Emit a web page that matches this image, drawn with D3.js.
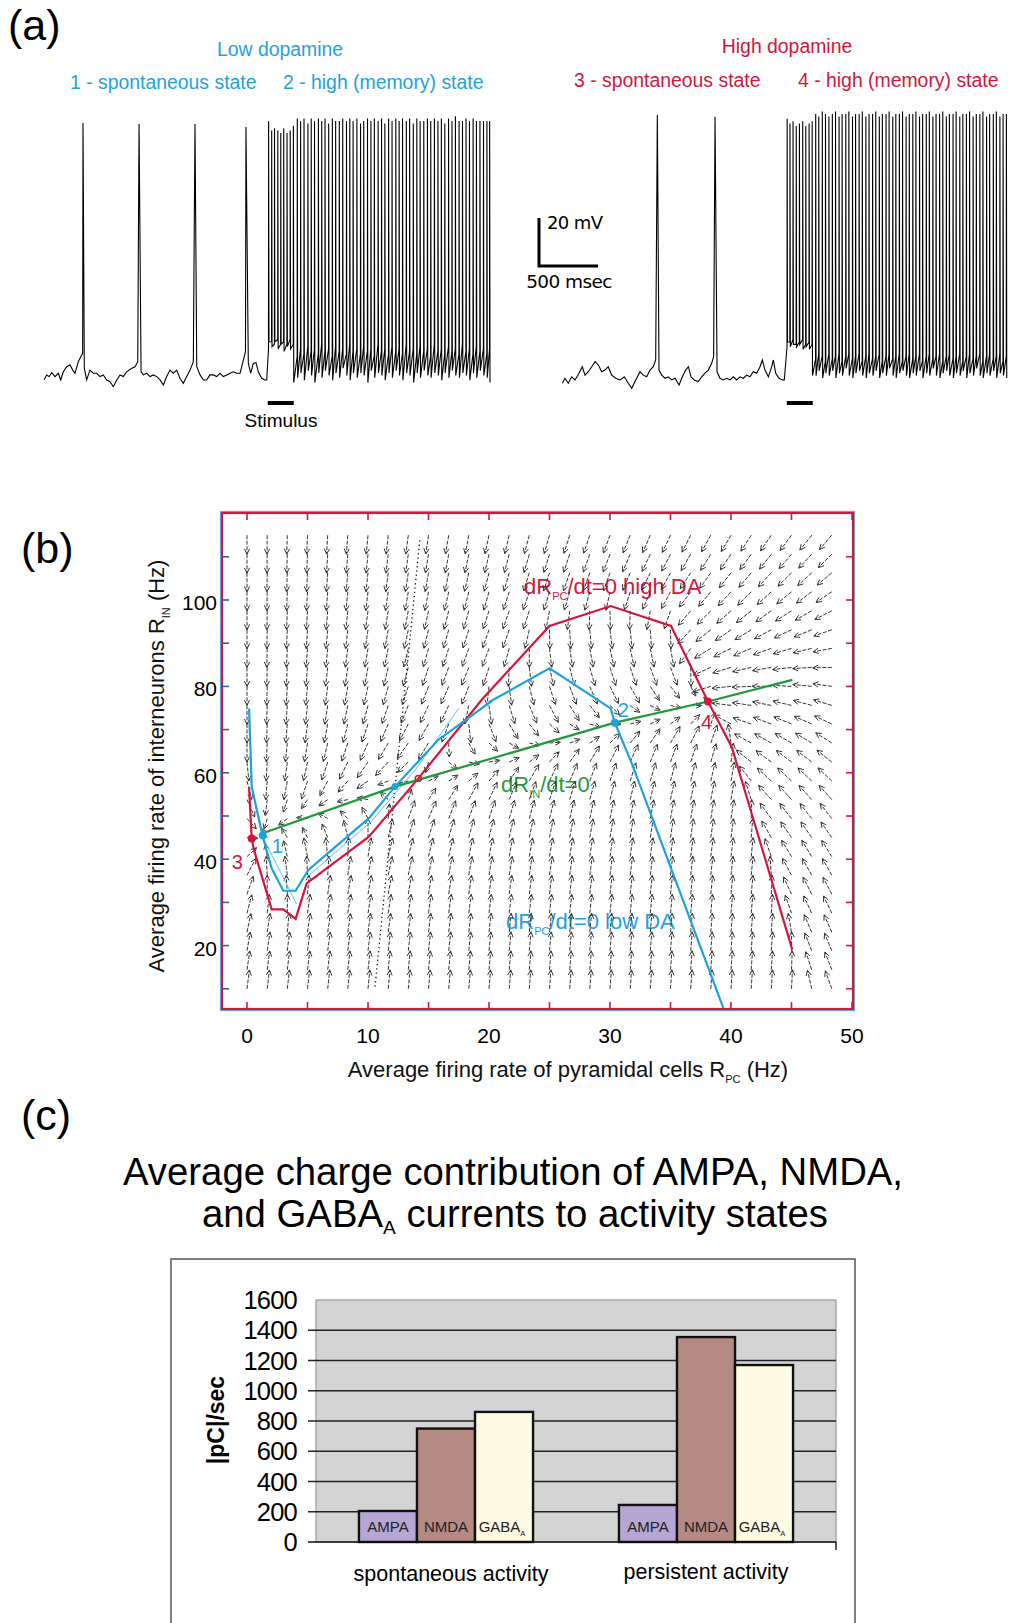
<!DOCTYPE html>
<html>
<head>
<meta charset="utf-8">
<script src="https://cdn.jsdelivr.net/npm/d3@7"></script>
<style>
  body { margin: 0; background: #fff; }
  svg { display: block; font-family: "Liberation Sans", Arial, Helvetica, sans-serif; }
</style>
</head>
<body>
<svg id="fig" width="1010" height="1623"></svg>
<script>
// ---------- (a) membrane potential traces: time in ms, voltage in mV ----------
const lowRest = [[8,-72.9],[31,-70.8],[53,-71.5],[74,-69.9],[102,-71.5],[130,-70.1],[150,-72.9],[172,-69.5],[201,-67.4],[229,-66.7],[252,-68.8],[271,-70.1],[299,-65.3],[320,-63.2],[336,-61.8],
  [350,-68.0],[370,-72.9],[398,-68.8],[426,-70.1],[455,-70.1],[483,-71.5],[511,-70.8],[540,-72.9],[568,-73.6],[596,-75.7],[625,-72.9],[653,-70.8],[681,-71.5],[709,-69.5],[752,-68.0],[780,-67.4],[803,-65.3],
  [831,-69.5],[850,-70.8],[879,-70.1],[907,-71.5],[935,-70.8],[964,-71.5],[992,-72.9],[1020,-75],[1048,-71.5],[1076,-68.8],[1104,-70.1],[1133,-68.8],[1161,-72.2],[1189,-74.3],[1218,-71.5],[1246,-68.8],[1274,-65.3],
  [1303,-67.4],[1331,-70.8],[1359,-72.9],[1387,-72.9],[1415,-70.8],[1443,-70.8],[1472,-71.5],[1500,-70.1],[1528,-71.5],[1557,-70.8],[1585,-70.1],[1613,-69.5],[1642,-70.1],[1670,-70.1],[1698,-64.6],[1716,-61.1],
  [1740,-66.0],[1760,-70.1],[1782,-66.0],[1805,-65.7],[1825,-69.5],[1853,-72.2],[1881,-72.9],[1896,-72.9]];
const lowSpontSpikes = [[339,34.2],[814,33.8],[1288,33.8],[1720,32.5]];
// persistent spikes: [time, pre-spike level, peak, trough]
const lowPersistSpikes = [[1912,-60,35,-57],[1938,-57,31,-59],[1962,-58,32,-57],[1990,-56,31,-60],[2015,-58,30,-58],[2040,-57,32,-61],[2068,-58,30,-59],[2095,-56,31,-60],[2122,-58,33,-74],
  [2155,-63,36,-72],[2183,-60,35,-70],[2212,-62,36,-73],[2245,-59,34,-69],[2273,-61,36,-71],[2301,-60,35,-74],[2334,-62,36,-70],[2362,-58,35,-72],[2390,-61,36,-69],[2421,-60,34,-71],
  [2452,-63,36,-73],[2480,-59,35,-70],[2511,-61,35,-72],[2540,-60,36,-68],[2572,-62,35,-71],[2600,-58,36,-73],[2628,-61,35,-70],[2660,-60,36,-72],[2691,-62,34,-70],[2718,-59,35,-71],
  [2750,-61,36,-74],[2779,-60,35,-69],[2808,-63,36,-72],[2840,-58,35,-70],[2869,-61,36,-71],[2897,-60,34,-73],[2929,-62,36,-70],[2958,-59,35,-72],[2990,-61,36,-69],[3018,-60,35,-71],
  [3047,-62,36,-73],[3079,-58,35,-70],[3107,-61,36,-71],[3138,-60,34,-74],[3168,-62,36,-70],[3196,-59,35,-72],[3227,-61,35,-69],[3258,-60,36,-71],[3286,-63,35,-72],[3317,-58,36,-70],
  [3347,-61,35,-71],[3376,-60,36,-73],[3405,-62,34,-70],[3437,-59,36,-72],[3466,-61,35,-69],[3495,-60,37,-71],[3526,-62,35,-72],[3555,-58,35,-70],[3585,-61,36,-71],[3614,-60,35,-73],
  [3645,-62,36,-70],[3673,-59,35,-72],[3703,-61,35,-69],[3733,-60,35,-71],[3762,-62,35,-72],[3785,-60,35,-74]];

const highRest = [[3,-72.2],[25,-70.1],[53,-72.2],[82,-69.5],[110,-70.8],[144,-68.0],[172,-65.3],[195,-68.8],[223,-67.4],[252,-65.3],[280,-63.2],[308,-64.6],[336,-67.4],[364,-66.7],[392,-65.3],
  [421,-68.8],[455,-70.1],[492,-70.8],[528,-69.5],[562,-72.2],[591,-74.3],[625,-70.8],[661,-67.4],[689,-68.8],[718,-69.5],[746,-66.7],[774,-65.3],[794,-62.5],
  [822,-66.7],[845,-68.8],[873,-70.1],[901,-69.5],[930,-70.8],[958,-70.1],[992,-72.9],[1020,-69.5],[1048,-66.7],[1071,-65.3],[1093,-69.5],[1121,-70.8],[1155,-71.5],[1184,-69.5],[1212,-68.0],[1240,-66.7],[1268,-63.9],[1285,-61.1],
  [1314,-67.4],[1339,-70.1],[1367,-70.8],[1396,-70.1],[1424,-70.8],[1452,-69.5],[1480,-70.8],[1509,-69.5],[1537,-70.1],[1565,-68.8],[1593,-69.5],[1621,-67.4],[1650,-68.0],[1678,-65.3],[1698,-62.5],
  [1720,-66.7],[1749,-69.5],[1777,-65.3],[1791,-62.5],[1811,-68.0],[1839,-70.1],[1867,-70.8],[1884,-70.8]];
const highSpontSpikes = [[808,39.6],[1297,38.9]];
const highPersistSpikes = [[1908,-57,38,-55],[1932,-55,36,-57],[1958,-54,37,-56],[1985,-56,35,-57],[2012,-55,36,-56],[2040,-54,37,-58],[2066,-56,35,-57],[2094,-55,36,-58],[2120,-56,37,-69],
  [2150,-62,40,-69],[2176,-60,39,-67],[2206,-61,41,-70],[2233,-63,40,-68],[2262,-60,39,-69],[2291,-62,40,-67],[2318,-61,41,-70],[2348,-60,39,-68],[2374,-63,40,-69],[2405,-61,40,-66],
  [2431,-60,41,-69],[2462,-62,39,-70],[2488,-61,40,-68],[2518,-60,40,-67],[2545,-63,41,-69],[2575,-61,39,-70],[2602,-60,40,-68],[2632,-62,40,-69],[2659,-61,41,-67],[2689,-60,39,-70],
  [2715,-63,40,-68],[2746,-61,40,-69],[2772,-60,41,-66],[2803,-62,39,-69],[2829,-61,40,-70],[2859,-60,40,-68],[2886,-63,41,-67],[2916,-61,39,-69],[2943,-60,40,-70],[2973,-62,40,-68],
  [2999,-61,41,-69],[3030,-60,39,-67],[3056,-63,40,-70],[3087,-61,40,-68],[3113,-60,41,-69],[3143,-62,39,-66],[3170,-61,40,-69],[3200,-60,40,-70],[3227,-63,41,-68],[3257,-61,39,-67],
  [3283,-60,40,-69],[3314,-62,40,-70],[3340,-61,41,-68],[3371,-60,39,-69],[3397,-63,40,-67],[3427,-61,40,-70],[3454,-60,41,-68],[3484,-62,39,-69],[3511,-61,40,-66],[3541,-60,40,-69],
  [3567,-63,41,-70],[3598,-61,39,-68],[3624,-60,40,-69],[3655,-62,40,-67],[3681,-61,41,-70],[3711,-60,39,-68],[3738,-63,40,-69],[3766,-61,40,-70]];

const stimulusWindow = [1905, 2125];   // ms
const scaleBarTime = 500;              // ms
const scaleBarVolt = 20;               // mV

// ---------- (b) phase plane: R_PC (Hz) vs R_IN (Hz) ----------
const redNullcline = [[0.17,56.7],[0.39,44.8],[0.58,42.1],[2.04,28.4],[3.0,28.4],[4.02,26.2],[4.93,34.4],[10.08,45.2],[14.16,58.7],[19.4,76.9],[25.0,94.0],[30.06,98.6],[35.04,94.0],[38.1,76.5],[40.06,66.0],[45.07,19.0]];
const blueNullcline = [[0.17,74.9],[0.39,56.8],[1.3,45.2],[2.04,37.9],[3.0,32.7],[4.02,32.7],[5.07,37.5],[10.08,49.5],[12.23,56.8],[15.8,67.6],[20.36,76.9],[25.0,84.2],[30.06,74.9],[30.4,71.6],[31.8,62.2],[39.4,5.3]];
const blueThinA = [[1.3,45.2],[4.1,29.6]];
const blueThinB = [[5.2,36.5],[10.2,48.5],[14.0,61.0],[17.5,74.9]];
const greenNullcline = [[1.3,46.0],[12.23,56.8],[30.4,71.6],[38.1,76.5],[45.07,81.5]];
const separatrix = [[10.58,10.5],[14.3,114.3]];
const stableLowDA = [[1.3,45.5],[30.4,71.6]];     // points 1, 2
const stableHighDA = [[0.39,44.8],[38.1,76.5]];   // points 3, 4
const saddleLowDA = [12.23,56.8];
const saddleHighDA = [14.16,58.7];
const quiverCols = [0,1.67,3.33,5,6.67,8.33,10,11.67,13.33,15,16.67,18.33,20,21.67,23.33,25,26.67,28.33,30,31.67,33.33,35,36.67,38.33,40,41.67,43.33,45,46.67,48.33];
const quiverRows = [10,14.4,18.8,23.1,27.5,31.9,36.3,40.6,45,49.4,53.8,58.1,62.5,66.9,71.3,75.6,80,84.4,88.8,93.1,97.5,101.9,106.3,110.6,115];
const xTicksB = [0,10,20,30,40,50];
const xMinorB = [0,5,10,15,20,25,30,35,40,45,50];
const yTicksB = [20,40,60,80,100];
const yMinorB = [10,20,30,40,50,60,70,80,90,100,110];

// ---------- (c) charge contribution ----------
const activityStates = ["spontaneous activity", "persistent activity"];
const receptors = ["AMPA", "NMDA", "GABA"];
const spontaneousCharge = [205, 750, 860];
const persistentCharge = [245, 1355, 1170];
const yTicksC = [0,200,400,600,800,1000,1200,1400,1600];

const RED = "#d2163c", BLUE = "#1ea2dc", GREEN = "#1e9a3a";
const svg = d3.select("#fig");

function subLabel(parent, x, y, pre, sub, post, size, color, anchor) {
  const t = parent.append("text").attr("x", x).attr("y", y)
    .attr("font-size", size).attr("fill", color).attr("text-anchor", anchor || "start");
  t.append("tspan").text(pre);
  t.append("tspan").attr("dy", size * 0.25).attr("font-size", size * 0.5).text(sub);
  if (post) t.append("tspan").attr("dy", -size * 0.25).text(post);
  return t;
}

// panel letters
svg.append("text").attr("x", 8).attr("y", 40).attr("font-size", 43).text("(a)");
svg.append("text").attr("x", 21).attr("y", 563).attr("font-size", 43).text("(b)");
svg.append("text").attr("x", 21).attr("y", 1130).attr("font-size", 43).text("(c)");

// ================= (a) =================
const xL = d3.scaleLinear().domain([0, 3800]).range([43, 491.4]);
const xR = d3.scaleLinear().domain([0, 3800]).range([562, 1010.4]);
const yL = d3.scaleLinear().domain([-75, 40]).range([385, 109]);
const yR = d3.scaleLinear().domain([-75, 40]).range([390, 114]);

function tracePoints(rest, spont, persist) {
  const pts = rest.concat(spont).sort((a, b) => a[0] - b[0]).map(d => [d[0], d[1]]);
  persist.forEach(d => {
    pts.push([d[0] - 1, d[1]], [d[0], d[2]], [d[0] + 3, d[3]]);
  });
  return pts;
}

const a = svg.append("g");
[[lowRest, lowSpontSpikes, lowPersistSpikes, xL, yL], [highRest, highSpontSpikes, highPersistSpikes, xR, yR]].forEach(([r, s, p, x, y]) => {
  a.append("path")
    .attr("d", d3.line().x(d => x(d[0])).y(d => y(d[1]))(tracePoints(r, s, p)))
    .attr("fill", "none").attr("stroke", "#000").attr("stroke-width", 1.1);
});

// stimulus bars
[xL, xR].forEach(x => {
  a.append("line").attr("x1", x(stimulusWindow[0])).attr("x2", x(stimulusWindow[1]))
    .attr("y1", 403).attr("y2", 403).attr("stroke", "#000").attr("stroke-width", 4);
});
a.append("text").attr("x", 281).attr("y", 427).attr("text-anchor", "middle").attr("font-size", 19).text("Stimulus");

// scale bar
const sbX = 539, sbY = 266;
const sbW = xL(scaleBarTime) - xL(0), sbH = yL(-70) - yL(-70 + scaleBarVolt);
a.append("path").attr("d", `M${sbX},${sbY - sbH}V${sbY}H${sbX + sbW}`)
  .attr("fill", "none").attr("stroke", "#000").attr("stroke-width", 3);
a.append("text").attr("x", 547).attr("y", 229).attr("font-size", 18).attr("font-family", "DejaVu Sans")
  .attr("letter-spacing", -0.6).text("20 mV");
a.append("text").attr("x", 569).attr("y", 288).attr("text-anchor", "middle").attr("font-size", 18.5)
  .attr("font-family", "DejaVu Sans").attr("letter-spacing", -0.6).text("500 msec");

// state headings
const hs = 19.4;
a.append("text").attr("x", 280).attr("y", 56).attr("text-anchor", "middle").attr("font-size", hs).attr("fill", BLUE).text("Low dopamine");
a.append("text").attr("x", 70).attr("y", 89).attr("font-size", hs).attr("fill", BLUE).text("1 - spontaneous state");
a.append("text").attr("x", 283).attr("y", 89).attr("font-size", hs).attr("fill", BLUE).text("2 - high (memory) state");
a.append("text").attr("x", 787).attr("y", 53).attr("text-anchor", "middle").attr("font-size", hs).attr("fill", RED).text("High dopamine");
a.append("text").attr("x", 574).attr("y", 87).attr("font-size", hs).attr("fill", RED).text("3 - spontaneous state");
a.append("text").attr("x", 798).attr("y", 87).attr("font-size", hs).attr("fill", RED).text("4 - high (memory) state");

// ================= (b) =================
const xP = d3.scaleLinear().domain([0, 50]).range([247, 852]);
const yP = d3.scaleLinear().domain([0, 100]).range([1032, 600]);
const frame = { x0: 222, x1: 853, y0: 513, y1: 1009 };
const b = svg.append("g");

// nullcline labels (the arrows are drawn over them, as in the figure)
subLabel(b, 524, 594, "dR", "PC", "/dt=0 high DA", 22, RED);
subLabel(b, 501, 792, "dR", "IN", "/dt=0", 22, GREEN);
subLabel(b, 506, 929, "dR", "PC", "/dt=0 low DA", 22, BLUE);

// direction field, derived from the nullcline curves read above
const Rcurve = d3.scaleLinear().domain(redNullcline.map(d => d[0])).range(redNullcline.map(d => d[1]));
const Gcurve = d3.scaleLinear().domain(greenNullcline.map(d => d[0])).range(greenNullcline.map(d => d[1]));
const arrows = [];
quiverRows.forEach(ry => quiverCols.forEach(cx => {
  const s = Math.tanh((Rcurve(cx) - ry) / 8);
  const u = s > 0 ? 8 * s : cx * s;
  const v = 1.8 * (Gcurve(cx) - ry);
  arrows.push({ cx, ry, u, v });
}));
const quiver = b.append("g").attr("stroke", "#333").attr("fill", "none");
arrows.forEach(d => {
  const mag = Math.hypot(d.u, d.v) || 1;
  const len = Math.max(11, Math.min(19, mag * 1.2));
  const dx = d.u / mag, dy = -d.v / mag;
  const x0 = xP(d.cx), y0 = yP(d.ry);
  const x1 = x0 + dx * len, y1 = y0 + dy * len;
  quiver.append("line").attr("x1", x0).attr("y1", y0).attr("x2", x1).attr("y2", y1)
    .attr("stroke-width", 1).attr("stroke-dasharray", "4,1.5");
  const ang = Math.atan2(dy, dx), h = 6;
  quiver.append("path")
    .attr("d", `M${x1 - h * Math.cos(ang - 0.45)},${y1 - h * Math.sin(ang - 0.45)}L${x1},${y1}L${x1 - h * Math.cos(ang + 0.45)},${y1 - h * Math.sin(ang + 0.45)}`)
    .attr("stroke-width", 1);
});

const lineP = d3.line().x(d => xP(d[0])).y(d => yP(d[1]));
b.append("path").attr("d", lineP(separatrix)).attr("stroke", "#111").attr("stroke-width", 1.3)
  .attr("stroke-dasharray", "1.3,3").attr("fill", "none");
b.append("path").attr("d", lineP(blueThinA)).attr("stroke", "#56c2ee").attr("stroke-width", 1).attr("fill", "none");
b.append("path").attr("d", lineP(blueThinB)).attr("stroke", "#56c2ee").attr("stroke-width", 1).attr("fill", "none");
b.append("path").attr("d", lineP(redNullcline)).attr("stroke", RED).attr("stroke-width", 2.2).attr("fill", "none");
b.append("path").attr("d", lineP(blueNullcline)).attr("stroke", BLUE).attr("stroke-width", 2.2).attr("fill", "none");
b.append("path").attr("d", lineP(greenNullcline)).attr("stroke", GREEN).attr("stroke-width", 2.2).attr("fill", "none");

stableHighDA.forEach(p => b.append("circle").attr("cx", xP(p[0])).attr("cy", yP(p[1])).attr("r", 4).attr("fill", RED));
stableLowDA.forEach(p => b.append("circle").attr("cx", xP(p[0])).attr("cy", yP(p[1])).attr("r", 4).attr("fill", BLUE));
b.append("circle").attr("cx", xP(saddleLowDA[0])).attr("cy", yP(saddleLowDA[1])).attr("r", 3.5).attr("fill", BLUE);
b.append("circle").attr("cx", xP(saddleHighDA[0])).attr("cy", yP(saddleHighDA[1])).attr("r", 3).attr("fill", "none")
  .attr("stroke", RED).attr("stroke-width", 1.5);

// point numbers
b.append("text").attr("x", xP(stableLowDA[0][0]) + 9).attr("y", yP(stableLowDA[0][1]) + 18).attr("font-size", 20).attr("fill", BLUE).text("1");
b.append("text").attr("x", xP(stableLowDA[1][0]) + 3).attr("y", yP(stableLowDA[1][1]) - 6).attr("font-size", 20).attr("fill", BLUE).text("2");
b.append("text").attr("x", xP(stableHighDA[0][0]) - 20).attr("y", yP(stableHighDA[0][1]) + 31).attr("font-size", 20).attr("fill", RED).text("3");
b.append("text").attr("x", xP(stableHighDA[1][0]) - 7).attr("y", yP(stableHighDA[1][1]) + 27).attr("font-size", 20).attr("fill", RED).text("4");

// frame
b.append("rect").attr("x", frame.x0 - 1.5).attr("y", frame.y0 - 1.5)
  .attr("width", frame.x1 - frame.x0 + 3).attr("height", frame.y1 - frame.y0 + 3)
  .attr("fill", "none").attr("stroke", "#5ab4e6").attr("stroke-width", 1.2);
b.append("rect").attr("x", frame.x0).attr("y", frame.y0)
  .attr("width", frame.x1 - frame.x0).attr("height", frame.y1 - frame.y0)
  .attr("fill", "none").attr("stroke", RED).attr("stroke-width", 2.2);

// inward ticks on all four sides
const tk = 7;
xMinorB.forEach(v => {
  b.append("line").attr("x1", xP(v)).attr("x2", xP(v)).attr("y1", frame.y0).attr("y2", frame.y0 + tk).attr("stroke", RED).attr("stroke-width", 1.6);
  b.append("line").attr("x1", xP(v)).attr("x2", xP(v)).attr("y1", frame.y1).attr("y2", frame.y1 - tk).attr("stroke", RED).attr("stroke-width", 1.6);
});
yMinorB.forEach(v => {
  b.append("line").attr("x1", frame.x0).attr("x2", frame.x0 + tk).attr("y1", yP(v)).attr("y2", yP(v)).attr("stroke", "#2b5fae").attr("stroke-width", 1.6);
  b.append("line").attr("x1", frame.x1).attr("x2", frame.x1 - tk).attr("y1", yP(v)).attr("y2", yP(v)).attr("stroke", RED).attr("stroke-width", 1.6);
});
xTicksB.forEach(v => b.append("text").attr("x", xP(v)).attr("y", 1043).attr("text-anchor", "middle").attr("font-size", 21).text(v));
yTicksB.forEach(v => b.append("text").attr("x", 217).attr("y", yP(v) + 10).attr("text-anchor", "end").attr("font-size", 21).text(v));

subLabel(b, 568, 1077, "Average firing rate of pyramidal cells R", "PC", " (Hz)", 22, "#111", "middle");
const yTitle = b.append("g").attr("transform", "translate(164,766) rotate(-90)");
subLabel(yTitle, 0, 0, "Average firing rate of interneurons R", "IN", " (Hz)", 22, "#111", "middle");

// ================= (c) =================
const c = svg.append("g");
c.append("rect").attr("x", 171).attr("y", 1259).attr("width", 684).attr("height", 420)
  .attr("fill", "none").attr("stroke", "#555").attr("stroke-width", 1.5);

const titleFont = '"Liberation Sans Narrow", "Arial Narrow", "Liberation Sans", Arial, sans-serif';
c.append("text").attr("x", 513).attr("y", 1185).attr("text-anchor", "middle")
  .attr("font-size", 38).attr("font-family", titleFont)
  .attr("textLength", 780).attr("lengthAdjust", "spacingAndGlyphs")
  .text("Average charge contribution of AMPA, NMDA,");
const t2 = c.append("text").attr("x", 515).attr("y", 1227).attr("text-anchor", "middle")
  .attr("font-size", 38).attr("font-family", titleFont)
  .attr("textLength", 626).attr("lengthAdjust", "spacingAndGlyphs");
t2.append("tspan").text("and GABA");
t2.append("tspan").attr("dy", 7).attr("font-size", 19).text("A");
t2.append("tspan").attr("dy", -7).text(" currents to activity states");

const yC = d3.scaleLinear().domain([0, 1600]).range([1542, 1300]);
const xG = d3.scaleBand().domain(activityStates).range([316, 836]);
const xB = d3.scaleBand().domain(receptors).range([0, xG.bandwidth()]).paddingOuter(0.74);
const fills = { AMPA: "#b5a6d4", NMDA: "#b58a82", GABA: "#fdfbe2" };

c.append("rect").attr("x", 316).attr("y", yC(1600)).attr("width", 520).attr("height", yC(0) - yC(1600))
  .attr("fill", "#d4d4d4").attr("stroke", "#a9a9a9").attr("stroke-width", 1.5);
yTicksC.filter(v => v > 0 && v < 1600).forEach(v => {
  c.append("line").attr("x1", 308).attr("x2", 836).attr("y1", yC(v)).attr("y2", yC(v))
    .attr("stroke", "#222").attr("stroke-width", 1.4);
});
yTicksC.forEach(v => c.append("text").attr("x", 297).attr("y", yC(v) + 9).attr("text-anchor", "end")
  .attr("font-size", 25.5).attr("letter-spacing", -0.8).text(v));
c.append("text").attr("transform", "translate(224,1420) rotate(-90)").attr("text-anchor", "middle")
  .attr("font-size", 23).attr("font-weight", "bold").text("|pC|/sec");

[spontaneousCharge, persistentCharge].forEach((vals, gi) => {
  const g0 = xG(activityStates[gi]);
  vals.forEach((v, i) => {
    const r = receptors[i];
    const bx = g0 + xB(r);
    c.append("rect").attr("x", bx).attr("y", yC(v)).attr("width", xB.bandwidth()).attr("height", yC(0) - yC(v))
      .attr("fill", fills[r]).attr("stroke", "#111").attr("stroke-width", 2.4);
    const lab = c.append("text").attr("x", bx + xB.bandwidth() / 2 - (r === "GABA" ? 2 : 0)).attr("y", 1532)
      .attr("text-anchor", "middle").attr("font-size", 15).attr("fill", "#222");
    lab.append("tspan").text(r);
    if (r === "GABA") lab.append("tspan").attr("dy", 4).attr("font-size", 7.5).text("A");
  });
  c.append("text").attr("x", g0 + xG.bandwidth() / 2 + (gi === 0 ? 5 : 0)).attr("y", 1581 - gi * 2).attr("text-anchor", "middle")
    .attr("font-size", 21.5).text(activityStates[gi]);
});
c.append("line").attr("x1", 308).attr("x2", 836).attr("y1", yC(0)).attr("y2", yC(0)).attr("stroke", "#111").attr("stroke-width", 1.6);
c.append("line").attr("x1", 836).attr("x2", 836).attr("y1", yC(0)).attr("y2", yC(0) + 8).attr("stroke", "#111").attr("stroke-width", 1.4);
</script>
</body>
</html>
